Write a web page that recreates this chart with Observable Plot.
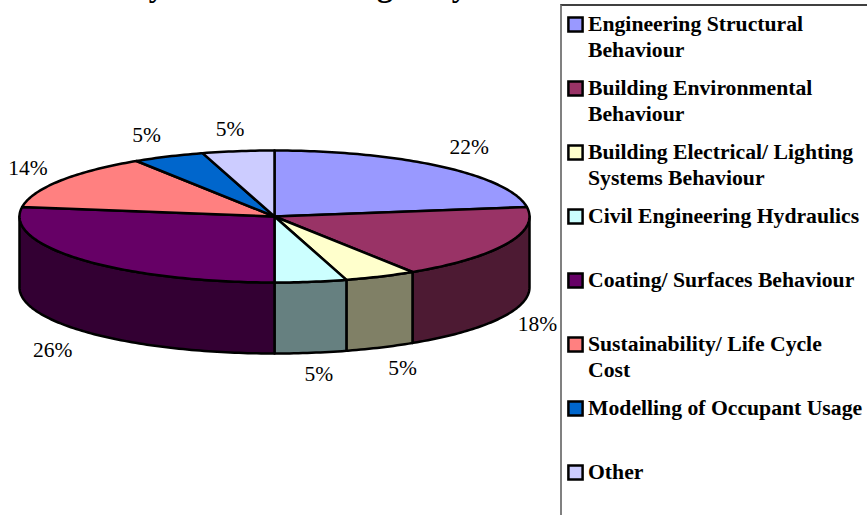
<!DOCTYPE html>
<html>
<head>
<meta charset="utf-8">
<script src="https://cdn.jsdelivr.net/npm/d3@7"></script>
<script src="https://cdn.jsdelivr.net/npm/@observablehq/plot@0.6"></script>
<style>
  html, body { margin: 0; padding: 0; background: #fff; overflow: hidden; }
  #page { position: relative; width: 867px; height: 515px; overflow: hidden; }
  #page > div, #page > svg, #page figure { position: absolute; margin: 0; }
  #title { position: absolute; left: 34px; top: -32px; white-space: nowrap;
    font: bold 31.5px "Liberation Serif", serif; color: #000; }
</style>
</head>
<body>
<div id="page"><div id="title">Which Systems' Modelling are you Involved in?</div></div>
<script>
const categories = [
  "Engineering Structural\nBehaviour",
  "Building Environmental\nBehaviour",
  "Building Electrical/ Lighting\nSystems Behaviour",
  "Civil Engineering Hydraulics",
  "Coating/ Surfaces Behaviour",
  "Sustainability/ Life Cycle\nCost",
  "Modelling of Occupant Usage",
  "Other"
];
const shares = [22.7, 18.2, 4.55, 4.55, 27.3, 13.6, 4.55, 4.55];
const shareLabels = ["22%", "18%", "5%", "5%", "26%", "14%", "5%", "5%"];
const topColors = ["#9999FF", "#993366", "#FFFFCC", "#CCFFFF", "#660066", "#FF8080", "#0066CC", "#CCCCFF"];
const wallColors = ["#4D4D80", "#4D1A33", "#808066", "#668080", "#330033", "#804040", "#003366", "#666680"];

// Layout
const labelOffsets = [[28, -19], [31, 80], [22, 92], [8, 92], [-29, 90], [-32, -13], [-22, -21], [-8, -22]];
const depth = 71 / 66;
const serif = "Liberation Serif";

const total = d3.sum(shares);
let run = 0;
const slices = shares.map((v, i) => {
  const start = run / total * 360;
  run += v;
  return {i, start, end: run / total * 360};
});
const pt = (deg, drop = 0) => {
  const a = deg * Math.PI / 180;
  return {x: Math.sin(a), y: Math.cos(a) - drop};
};
const arc = (a, b, drop = 0) => d3.range(a, b, 1).concat(b).map(d => pt(d, drop));

const topFace = s => [{x: 0, y: 0}, ...arc(s.start, s.end), {x: 0, y: 0}];
const wall = s => {
  const a = Math.max(s.start, 90), b = Math.min(s.end, 270);
  if (a >= b) return null;
  const upper = arc(a, b), lower = arc(a, b, depth).reverse();
  return [...upper, ...lower, upper[0]];
};

const outline = {stroke: "#000", strokeWidth: 2.5, strokeLinejoin: "round"};
const pie = Plot.plot({
  width: 561, height: 515, margin: 0,
  style: {background: "transparent", overflow: "hidden"},
  x: {domain: [-1, 1], range: [19, 529], axis: null},
  y: {domain: [-1, 1], range: [282, 150], axis: null},
  marks: [
    ...slices.filter(wall).map(s => Plot.line(wall(s), {x: "x", y: "y", fill: wallColors[s.i], ...outline})),
    ...slices.map(s => Plot.line(topFace(s), {x: "x", y: "y", fill: topColors[s.i], ...outline})),
    ...slices.map(s => {
      const m = pt((s.start + s.end) / 2);
      return Plot.text([m], {
        x: "x", y: "y", text: () => shareLabels[s.i],
        dx: labelOffsets[s.i][0], dy: labelOffsets[s.i][1],
        fontFamily: serif, fontSize: 21.5, fill: "#000"
      });
    })
  ]
});
pie.style.left = "0px"; pie.style.top = "0px";

const rows = categories.map((c, i) => ({c, color: topColors[i]}));
const legend = Plot.plot({
  width: 306, height: 515, margin: 0,
  style: {background: "transparent", overflow: "hidden"},
  x: {domain: [0, 306], range: [0, 306], axis: null},
  y: {type: "point", domain: categories, range: [23.5, 472.5], padding: 0, axis: null},
  marks: [
    Plot.dot(rows, {x: () => 14, y: "c", symbol: "square", r: 8, fill: "color", stroke: "#000", strokeWidth: 2.5}),
    Plot.text(rows, {
      x: () => 26.5, y: "c", text: "c", textAnchor: "start", lineAnchor: "top", dy: -12.5, lineHeight: 1.21,
      fontFamily: serif, fontWeight: "bold", fontSize: 21.7, fill: "#000"
    })
  ]
});
legend.style.left = "561px"; legend.style.top = "0px";

const frame = document.createElement("div");
frame.style.cssText = "left:560px;top:4px;width:330px;height:530px;box-sizing:border-box;border-left:2px solid #808080;border-top:2px solid #404040;";

const page = document.getElementById("page");
page.append(pie, frame, legend);
</script>
</body>
</html>
